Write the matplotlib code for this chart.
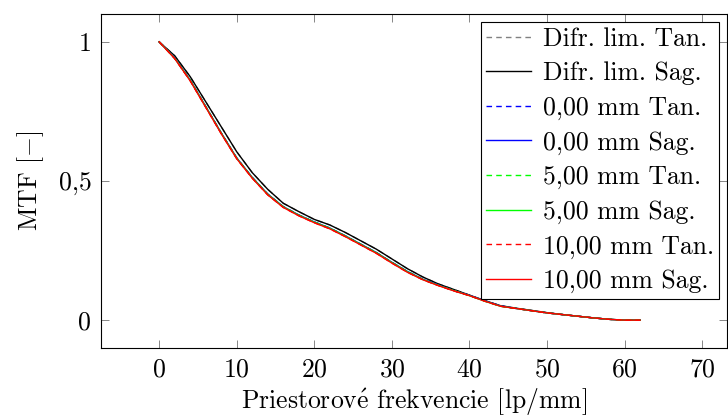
import matplotlib
matplotlib.use("Agg")
import matplotlib.pyplot as plt

plt.rcParams['font.family'] = ['cmr10', 'DejaVu Serif']
plt.rcParams['axes.formatter.use_mathtext'] = True
plt.rcParams['mathtext.fontset'] = 'cm'

FS = 18.5

# spatial frequency [lp/mm]
freq = [0, 2, 4, 6, 8, 10, 12, 14, 16, 18, 20, 22, 24, 26, 28, 30,
        32, 34, 36, 38, 40, 42, 44, 46, 48, 50, 52, 54, 56, 58, 60, 62]

# diffraction limit (tan and sag coincide)
difr_sag = [1.0, 0.95, 0.875, 0.785, 0.695, 0.605, 0.53, 0.47, 0.42, 0.39,
            0.362, 0.342, 0.315, 0.285, 0.255, 0.22, 0.185, 0.155, 0.13, 0.11,
            0.09, 0.07, 0.052, 0.043, 0.035, 0.027, 0.02, 0.014, 0.008, 0.003,
            0.0, 0.0]
difr_tan = difr_sag

# field 0,00 mm
f0_sag = [1.0, 0.942, 0.863, 0.768, 0.673, 0.583, 0.513, 0.453, 0.408, 0.378,
          0.353, 0.331, 0.303, 0.273, 0.243, 0.208, 0.175, 0.147, 0.126, 0.106,
          0.089, 0.069, 0.051, 0.042, 0.034, 0.026, 0.02, 0.014, 0.008, 0.003,
          0.0, 0.0]
f0_tan = f0_sag

# field 5,00 mm
f5_sag = [1.0, 0.941, 0.862, 0.767, 0.672, 0.582, 0.512, 0.452, 0.407, 0.377,
          0.352, 0.330, 0.302, 0.272, 0.242, 0.207, 0.174, 0.146, 0.125, 0.106,
          0.088, 0.068, 0.050, 0.042, 0.034, 0.026, 0.02, 0.014, 0.008, 0.003,
          0.0, 0.0]
f5_tan = f5_sag

# field 10,00 mm
f10_sag = [1.0, 0.94, 0.86, 0.765, 0.67, 0.58, 0.51, 0.45, 0.405, 0.375,
           0.35, 0.328, 0.30, 0.27, 0.24, 0.205, 0.172, 0.145, 0.124, 0.105,
           0.088, 0.068, 0.050, 0.042, 0.034, 0.026, 0.02, 0.014, 0.008, 0.003,
           0.0, 0.0]
f10_tan = f10_sag

series = [
    ("Difr. lim. Tan.", difr_tan, "gray", "--"),
    ("Difr. lim. Sag.", difr_sag, "black", "-"),
    ("0,00 mm Tan.", f0_tan, "blue", "--"),
    ("0,00 mm Sag.", f0_sag, "blue", "-"),
    ("5,00 mm Tan.", f5_tan, "#00ff00", "--"),
    ("5,00 mm Sag.", f5_sag, "#00ff00", "-"),
    ("10,00 mm Tan.", f10_tan, "red", "--"),
    ("10,00 mm Sag.", f10_sag, "red", "-"),
]

fig = plt.figure(figsize=(7.28, 4.19), dpi=100)
ax = fig.add_axes([0.1387, 0.1695, 0.8599, 0.7971])

for label, vals, color, ls in series:
    ax.plot(freq, vals, color=color, ls=ls, lw=1.0, label=label,
            dashes=(4, 3) if ls == "--" else (None, None))

ax.set_xlim(-7.5, 73.2)
ax.set_ylim(-0.1, 1.1)
ax.set_xticks([0, 10, 20, 30, 40, 50, 60, 70])
ax.set_yticks([0, 0.5, 1])
ax.set_yticklabels(["0", "0,5", "1"])
ax.tick_params(direction="in", length=6, width=0.6, color="0.45",
               top=True, right=True, labelsize=FS, pad=7)
for sp in ax.spines.values():
    sp.set_linewidth(0.8)

ax.set_xlabel(r"Priestorov$\mathrm{\acute{e}}$ frekvencie [lp/mm]", fontsize=FS, labelpad=4)
ax.set_ylabel(r"MTF [$-$]", fontsize=FS, labelpad=9)

leg = ax.legend(loc="upper right", fontsize=FS, frameon=True, fancybox=False,
                edgecolor="black", framealpha=1, borderaxespad=0.3,
                handlelength=1.75, handletextpad=0.45, labelspacing=0.42,
                borderpad=0.2)
leg.get_frame().set_linewidth(0.8)

fig.savefig("out.png", dpi=100)
